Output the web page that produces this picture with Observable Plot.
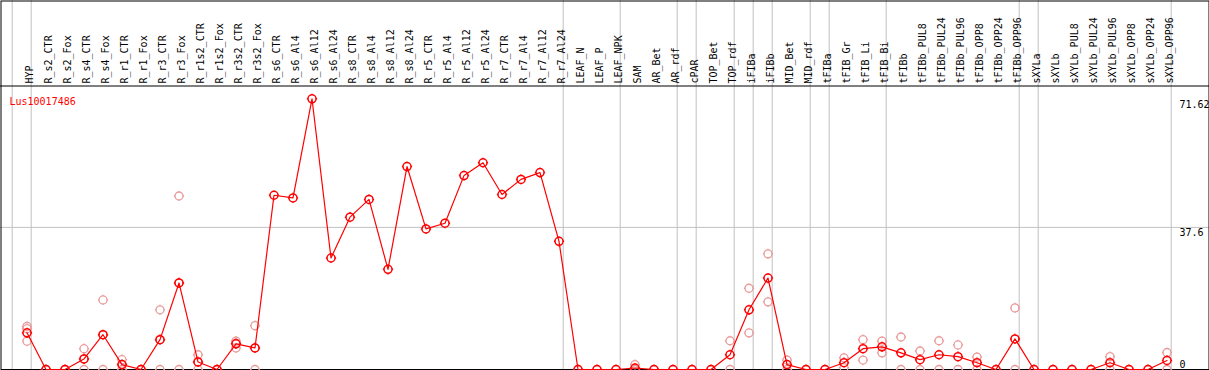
<!DOCTYPE html>
<html>
<head>
<meta charset="utf-8">
<script src="https://cdn.jsdelivr.net/npm/d3@7"></script>
<script src="https://cdn.jsdelivr.net/npm/@observablehq/plot@0.6"></script>
<style>
  html, body { margin: 0; padding: 0; background: white; }
  svg { display: block; }
</style>
</head>
<body>
<script>
const geneId = "Lus10017486";

const categories = [
  "HYP",
  "R_s2_CTR", "R_s2_Fox", "R_s4_CTR", "R_s4_Fox", "R_r1_CTR", "R_r1_Fox", "R_r3_CTR", "R_r3_Fox",
  "R_r1s2_CTR", "R_r1s2_Fox", "R_r3s2_CTR", "R_r3s2_Fox",
  "R_s6_CTR", "R_s6_Al4", "R_s6_Al12", "R_s6_Al24", "R_s8_CTR", "R_s8_Al4", "R_s8_Al12", "R_s8_Al24",
  "R_r5_CTR", "R_r5_Al4", "R_r5_Al12", "R_r5_Al24", "R_r7_CTR", "R_r7_Al4", "R_r7_Al12", "R_r7_Al24",
  "LEAF_N", "LEAF_P", "LEAF_NPK",
  "SAM", "AR_Bet", "AR_rdf", "cPAR", "TOP_Bet", "TOP_rdf", "iFIBa", "iFIBb", "MID_Bet", "MID_rdf",
  "tFIBa", "tFIB_Gr", "tFIB_Li", "tFIB_Bi",
  "tFIBb", "tFIBb_PUL8", "tFIBb_PUL24", "tFIBb_PUL96", "tFIBb_OPP8", "tFIBb_OPP24", "tFIBb_OPP96",
  "sXYLa",
  "sXYLb", "sXYLb_PUL8", "sXYLb_PUL24", "sXYLb_PUL96", "sXYLb_OPP8", "sXYLb_OPP24", "sXYLb_OPP96"
];

// mean expression per category (red line)
const means = [
  9.7,
  0, 0, 2.8, 9.2, 1.3, 0, 7.9, 22.9,
  2.0, 0, 6.8, 5.7,
  46.1, 45.4, 71.62, 29.5, 40.3, 45.0, 26.5, 53.7,
  37.2, 38.7, 51.3, 54.7, 46.3, 50.3, 52.1, 33.9,
  0, 0, 0,
  0.4, 0, 0, 0, 0, 3.9, 15.8, 24.2, 1.3, 0,
  0, 1.8, 5.5, 6.0,
  4.4, 2.6, 3.9, 3.4, 1.8, 0, 8.1,
  0,
  0, 0, 0, 1.8, 0, 0, 2.4
];

// individual replicate values (faint circles)
const replicates = [
  [11.4, 10.8, 7.5],
  [0, 0], [0, 0], [5.5, 2.8, 0], [18.4, 9.2, 0], [2.6, 1.3, 0], [0, 0], [15.8, 7.9, 0], [45.9, 22.9, 0],
  [3.9, 2.0, 0], [0, 0], [7.5, 7.0, 5.7], [11.6, 5.7, 0],
  [], [], [], [], [], [], [], [],
  [], [], [], [], [], [], [], [],
  [0], [0], [0],
  [1.3, 0, 0], [0], [0], [0], [0], [7.6, 0], [21.5, 9.7], [30.6, 17.9], [2.5, 0], [0],
  [0], [3.1, 0.5], [7.9, 2.5], [7.5, 4.4],
  [8.6, 0], [4.9, 0], [7.6, 0], [6.5, 0], [3.3, 0], [0], [16.3, 0],
  [0],
  [0], [0], [0], [3.4, 0], [0], [0], [4.5, 0]
];

// number of categories in each separated group
const groupSizes = [1, 28, 3, 3, 1, 2, 1, 1, 2, 1, 3, 7, 1, 7];

const yTickValues = [71.62, 37.6, 0];
const gridValues = [37.6];

// ---- layout (pixels) ----
const W = 1209, H = 370;
const firstX = 26.5, step = 19;          // x of first category and spacing
const zeroPx = 369, maxPx = 98.3;        // y pixel of 0 and of max tick
const headerPx = 85.5;
const yMax = d3.max(yTickValues);
const pxPerUnit = (zeroPx - maxPx) / yMax;

const xDomain = [-firstX / step, (W - firstX) / step];
const yDomain = [0, zeroPx / pxPerUnit];

// separator positions (in index units)
const sepOffset = 0.22;
const separators = [-1 + sepOffset];
{
  let c = 0;
  for (const s of groupSizes) { c += s; separators.push(c - 1 + sepOffset); }
}

const repPoints = [];
replicates.forEach((arr, i) => arr.forEach(v => repPoints.push({i, v})));

// circle with small outward ticks (like the reference markers)
const tickCircle = {
  draw(ctx, size) {
    const r = Math.sqrt(size / Math.PI), t = 1.1;
    ctx.moveTo(r, 0);
    ctx.arc(0, 0, r, 0, 2 * Math.PI);
    ctx.moveTo(0, -r); ctx.lineTo(0, -r - t);
    ctx.moveTo(0, r); ctx.lineTo(0, r + t);
    ctx.moveTo(-r, 0); ctx.lineTo(-r - t, 0);
    ctx.moveTo(r, 0); ctx.lineTo(r + t, 0);
  }
};

const chart = Plot.plot({
  width: W,
  height: H,
  marginTop: 0,
  marginLeft: 0,
  marginRight: 0,
  marginBottom: H - zeroPx,
  x: {type: "linear", domain: xDomain, axis: null},
  y: {type: "linear", domain: yDomain, axis: null},
  style: {fontFamily: "'DejaVu Sans Mono', monospace", fontSize: "10px", background: "white", color: "black"},
  marks: [
    Plot.ruleX(separators, {stroke: "#c0c0c0", strokeWidth: 1}),
    Plot.ruleY(gridValues, {stroke: "#c0c0c0", strokeWidth: 1}),
    Plot.ruleY([(zeroPx - headerPx) / pxPerUnit], {stroke: "black", strokeWidth: 1}),
    Plot.frame({stroke: "black", strokeWidth: 1, insetTop: 0.5, insetLeft: 0.5, insetRight: 0.5, insetBottom: 0}),
    Plot.text(categories, {
      x: (d, i) => i, frameAnchor: "top", dy: 83, dx: -1.5,
      rotate: -90, textAnchor: "start", fill: "black"
    }),
    Plot.text([geneId], {frameAnchor: "top-left", dx: 9, dy: 97, textAnchor: "start", fill: "red"}),
    Plot.text(yTickValues.filter(d => d > 0), {
      y: d => d, text: d => String(d), frameAnchor: "right", dx: -30,
      textAnchor: "start", lineAnchor: "top", dy: 2, fill: "black"
    }),
    Plot.text(yTickValues.filter(d => d === 0), {
      y: d => d, text: d => String(d), frameAnchor: "right", dx: -30,
      textAnchor: "start", lineAnchor: "bottom", dy: -2, fill: "black"
    }),
    Plot.dot(repPoints, {
      x: "i", y: "v", r: 4, symbol: tickCircle,
      stroke: "#e99a9a", strokeWidth: 1.3, fill: "none"
    }),
    Plot.line(means, {x: (d, i) => i, y: d => d, stroke: "red", strokeWidth: 1.2}),
    Plot.dot(means, {
      x: (d, i) => i, y: d => d, r: 4, symbol: tickCircle,
      stroke: "red", strokeWidth: 1.5, fill: "none"
    })
  ]
});

document.body.appendChild(chart);
</script>
</body>
</html>
